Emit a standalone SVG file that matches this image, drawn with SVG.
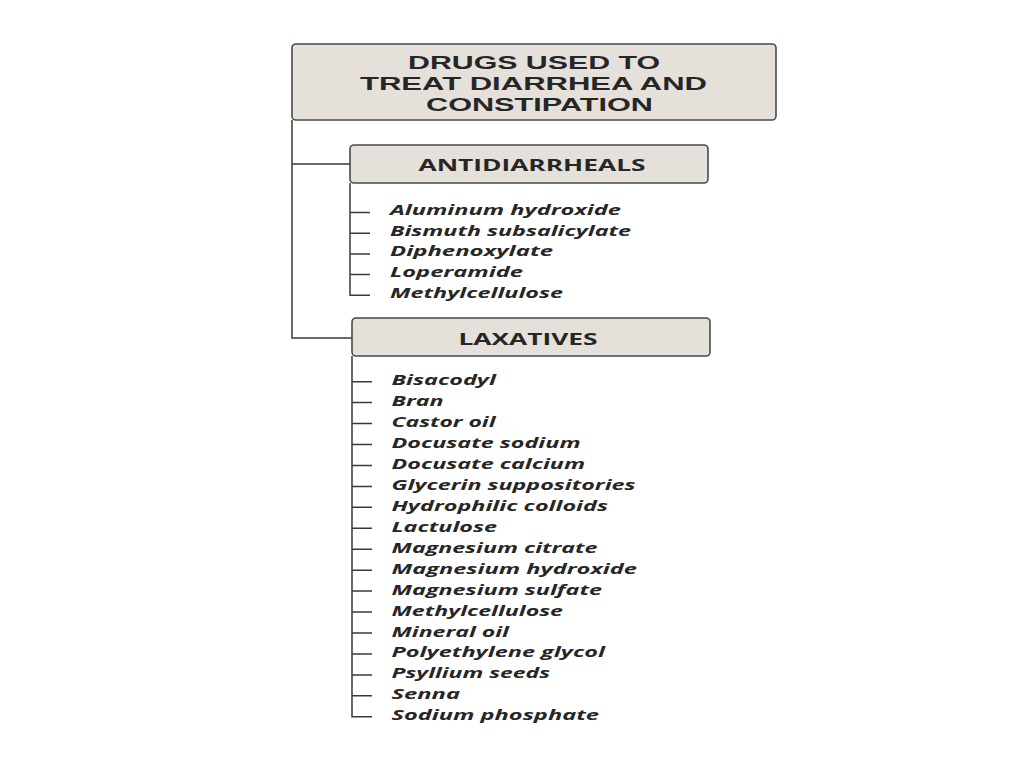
<svg xmlns="http://www.w3.org/2000/svg" width="1024" height="768" viewBox="0 0 1024 768">
<style>
.box{fill:#e5e1da;stroke:#4a4a4a;stroke-width:1.6}
.line{stroke:#3a3a3a;stroke-width:1.5;fill:none}
.title{font-family:"Liberation Sans",Arial,sans-serif;font-weight:700;font-size:18px;fill:#262626}
.head{font-family:"Open Sans","Liberation Sans",sans-serif;font-weight:700;font-size:16px;fill:#262626}
.item{font-family:"Open Sans","DejaVu Sans",sans-serif;font-weight:700;font-style:italic;font-size:14.5px;fill:#262626}
</style>
<rect width="1024" height="768" fill="#ffffff"/>
<g id="connectors">
<path class="line" d="M292 120 V338 H352"/>
<path class="line" d="M292 164 H350"/>
<path class="line" d="M350 183 V295.3 H370 M350 212.5 H370 M350 233.2 H370 M350 253.9 H370 M350 274.6 H370"/>
<path class="line" d="M352 356 V716.7 H372 M352 381.7 H372 M352 402.6 H372 M352 423.6 H372 M352 444.5 H372 M352 465.5 H372 M352 486.4 H372 M352 507.3 H372 M352 528.3 H372 M352 549.2 H372 M352 570.2 H372 M352 591.1 H372 M352 612.0 H372 M352 633.0 H372 M352 653.9 H372 M352 674.9 H372 M352 695.8 H372"/>
</g>
<g id="title">
<rect class="box" x="292" y="44" width="484" height="76" rx="4"/>
<text class="title" x="408" y="68.5" textLength="252" lengthAdjust="spacingAndGlyphs">DRUGS USED TO</text>
<text class="title" x="360" y="90" textLength="347" lengthAdjust="spacingAndGlyphs">TREAT DIARRHEA AND</text>
<text class="title" x="426" y="111" textLength="227" lengthAdjust="spacingAndGlyphs">CONSTIPATION</text>
</g>
<g id="antidiarrheals">
<rect class="box" x="350" y="145" width="358" height="38" rx="4"/>
<text class="head" x="418.5" y="171" textLength="227" lengthAdjust="spacingAndGlyphs">ANTIDIARRHEALS</text>
<text class="item" x="390" y="215" textLength="231" lengthAdjust="spacingAndGlyphs">Aluminum hydroxide</text>
<text class="item" x="390" y="235.7" textLength="241" lengthAdjust="spacingAndGlyphs">Bismuth subsalicylate</text>
<text class="item" x="390" y="256.4" textLength="163" lengthAdjust="spacingAndGlyphs">Diphenoxylate</text>
<text class="item" x="390" y="277.1" textLength="133" lengthAdjust="spacingAndGlyphs">Loperamide</text>
<text class="item" x="390" y="297.8" textLength="173" lengthAdjust="spacingAndGlyphs">Methylcellulose</text>
</g>
<g id="laxatives">
<rect class="box" x="352" y="318" width="358" height="38" rx="4"/>
<text class="head" x="458.5" y="345" textLength="139" lengthAdjust="spacingAndGlyphs">LAXATIVES</text>
<text class="item" x="391.5" y="385.2" textLength="104.5" lengthAdjust="spacingAndGlyphs">Bisacodyl</text>
<text class="item" x="391.5" y="406.1" textLength="52" lengthAdjust="spacingAndGlyphs">Bran</text>
<text class="item" x="391.5" y="427.1" textLength="104" lengthAdjust="spacingAndGlyphs">Castor oil</text>
<text class="item" x="391.5" y="448.0" textLength="189" lengthAdjust="spacingAndGlyphs">Docusate sodium</text>
<text class="item" x="391.5" y="469.0" textLength="193.5" lengthAdjust="spacingAndGlyphs">Docusate calcium</text>
<text class="item" x="391.5" y="489.9" textLength="244" lengthAdjust="spacingAndGlyphs">Glycerin suppositories</text>
<text class="item" x="391.5" y="510.8" textLength="216.5" lengthAdjust="spacingAndGlyphs">Hydrophilic colloids</text>
<text class="item" x="391.5" y="531.8" textLength="105.5" lengthAdjust="spacingAndGlyphs">Lactulose</text>
<text class="item" x="391.5" y="552.7" textLength="206" lengthAdjust="spacingAndGlyphs">Magnesium citrate</text>
<text class="item" x="391.5" y="573.7" textLength="245.5" lengthAdjust="spacingAndGlyphs">Magnesium hydroxide</text>
<text class="item" x="391.5" y="594.6" textLength="210.5" lengthAdjust="spacingAndGlyphs">Magnesium sulfate</text>
<text class="item" x="391.5" y="615.5" textLength="171.5" lengthAdjust="spacingAndGlyphs">Methylcellulose</text>
<text class="item" x="391.5" y="636.5" textLength="117.5" lengthAdjust="spacingAndGlyphs">Mineral oil</text>
<text class="item" x="391.5" y="657.4" textLength="213.5" lengthAdjust="spacingAndGlyphs">Polyethylene glycol</text>
<text class="item" x="391.5" y="678.4" textLength="158.5" lengthAdjust="spacingAndGlyphs">Psyllium seeds</text>
<text class="item" x="391.5" y="699.3" textLength="68.5" lengthAdjust="spacingAndGlyphs">Senna</text>
<text class="item" x="391.5" y="720.2" textLength="207.5" lengthAdjust="spacingAndGlyphs">Sodium phosphate</text>
</g>
</svg>
